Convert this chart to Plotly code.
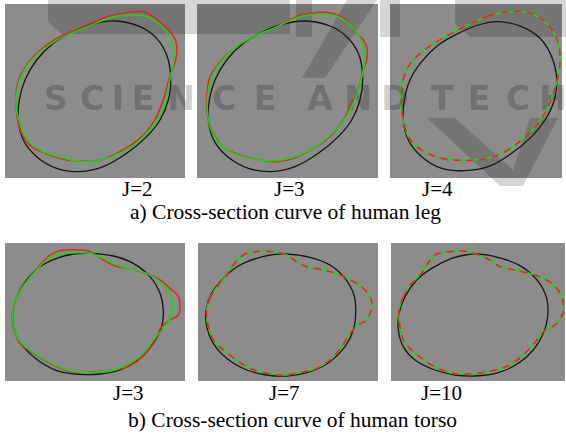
import plotly.graph_objects as go

W, H = 566, 436

# ---------------- data (units = 3x crop pixels of each panel) -------------
LEG_J2_BLACK = [(345,63),(420,80),(470,115),(500,165),(512,230),(505,300),(480,360),(440,410),(380,460),(310,500),
                (240,515),(170,505),(110,470),(70,420),(55,360),(58,300),(75,240),(110,180),(160,130),(220,95),(280,72)]
LEG_J2_RED = [(290,62),(340,45),(380,38),(430,35),(460,50),(490,75),(515,100),(528,125),(530,165),(520,200),(508,235),
              (500,265),(490,300),(470,350),(440,395),(400,430),(350,460),(300,480),(260,483),(200,480),(140,462),(95,440),
              (70,410),(55,370),(48,320),(50,265),(60,230),(80,195),(105,165),(140,135),(190,105),(240,85)]
LEG_J2_GREEN = [(300,65),(340,50),(400,45),(440,50),(475,70),(500,95),(518,130),(522,170),(515,215),(505,260),(490,320),
                (460,375),(420,420),(370,455),(300,480),(240,484),(180,472),(120,450),(80,415),(60,370),(48,320),(52,265),
                (70,215),(100,175),(140,140),(190,110),(250,85)]

LEG_J3_BLACK = [(345,63),(420,78),(470,110),(505,160),(518,230),(510,300),(485,360),(445,410),(385,460),(315,500),
                (245,515),(175,505),(115,472),(72,422),(55,360),(58,300),(75,240),(110,180),(160,130),(220,95),(280,72)]
LEG_J3_RED = [(300,60),(330,45),(380,38),(420,38),(455,50),(480,75),(500,100),(520,120),(530,140),(530,180),(520,210),
              (510,250),(500,280),(485,310),(460,360),(420,410),(370,445),(310,475),(260,485),(200,478),(150,465),
              (105,445),(75,410),(58,370),(50,320),(52,270),(60,230),(75,205),(100,175),(140,140),(190,110),(250,85)]
LEG_J3_GREEN = [(300,62),(330,50),(390,42),(440,48),(480,75),(505,105),(520,140),(525,180),(518,220),(505,270),(485,320),
                (455,370),(410,415),(360,450),(300,475),(240,483),(180,475),(120,455),(80,420),(60,380),(52,330),(55,270),
                (70,220),(100,178),(140,140),(190,110),(250,85)]

LEG_J4_BLACK = [(370,65),(440,80),(495,115),(530,170),(545,235),(538,300),(510,360),(470,410),(410,460),(340,500),
                (270,512),(200,505),(140,470),(100,420),(85,360),(88,300),(105,240),(140,185),(190,135),(250,100),(310,75)]
LEG_J4_RED = [(290,70),(340,48),(400,35),(460,38),(505,60),(535,95),(552,140),(555,190),(548,235),(535,280),(520,320),
              (490,370),(440,420),(380,460),(320,478),(260,481),(200,475),(140,450),(100,410),(86,360),(78,300),(82,250),
              (100,200),(130,165),(170,135),(230,100)]
LEG_J4_GREEN = [(290,70),(340,48),(400,35),(460,38),(505,60),(535,95),(552,140),(555,190),(548,235),(535,280),(520,320),
                (490,370),(440,420),(380,460),(320,478),(260,480),(200,475),(140,450),(100,410),(85,360),(75,300),(80,250),
                (100,200),(130,165),(170,135),(230,100)]

TORSO_J3_BLACK = [(270,40),(340,48),(400,70),(450,110),(480,160),(490,210),(485,260),(460,310),(420,355),(360,390),
                  (300,402),(240,403),(180,395),(120,365),(70,320),(42,270),(38,220),(50,170),(80,120),(120,80),(170,55),(220,42)]
TORSO_J3_RED = [(38,215),(50,170),(75,130),(100,100),(120,75),(150,45),(180,32),(260,32),(280,40),(310,60),(345,78),
                (380,85),(440,100),(480,120),(510,145),(535,170),(540,200),(535,225),(510,240),(485,260),(470,290),(445,330),
                (410,365),(375,383),(340,390),(290,395),(240,398),(200,392),(150,370),(100,340),(60,310),(45,280),(38,250)]
TORSO_J3_GREEN = [(38,215),(50,170),(80,125),(110,90),(140,60),(180,42),(230,38),(270,40),(310,55),(340,70),(380,85),
                  (440,100),(480,125),(510,160),(518,200),(510,235),(490,265),(460,300),(430,340),(400,365),(350,388),
                  (300,395),(250,398),(200,390),(150,368),(100,338),(65,310),(45,280),(38,250)]

TORSO_J7_BLACK = [(290,42),(360,52),(420,75),(465,115),(492,165),(497,220),(490,270),(465,320),(420,365),(360,395),
                  (290,408),(230,405),(170,390),(110,355),(70,310),(50,260),(48,210),(65,160),(100,115),(145,78),(200,55),(250,44)]
TORSO_J7_RED = [(50,210),(60,175),(85,135),(110,105),(130,75),(160,45),(195,35),(250,35),(290,45),(320,65),(350,80),
                (400,90),(450,105),(500,130),(530,155),(545,185),(542,215),(530,240),(505,255),(480,280),(455,320),(420,360),
                (380,385),(330,398),(280,405),(230,400),(180,385),(140,360),(100,330),(70,300),(55,260),(50,230)]
TORSO_J7_GREEN = [(50,210),(60,175),(85,135),(110,105),(130,75),(160,45),(195,35),(250,35),(290,45),(320,65),(350,80),
                  (400,90),(450,105),(500,130),(530,155),(545,185),(542,215),(530,240),(505,255),(480,280),(455,320),(420,360),
                  (380,385),(330,398),(280,405),(230,400),(180,385),(140,360),(100,330),(70,300),(55,260),(50,230)]

TORSO_J10_BLACK = [(310,42),(380,55),(440,80),(490,125),(515,175),(518,230),(505,280),(475,330),(430,370),(370,398),
                   (300,408),(240,405),(180,390),(120,360),(85,320),(70,270),(72,220),(90,170),(125,120),(170,85),(230,55),(270,45)]
TORSO_J10_RED = [(72,210),(85,170),(110,130),(140,100),(155,75),(180,45),(220,35),(280,35),(310,45),(345,60),(375,80),
                 (420,90),(480,105),(530,130),(555,160),(565,195),(560,230),(540,255),(510,270),(490,295),(460,330),(420,365),
                 (380,385),(320,398),(270,402),(230,400),(180,380),(140,355),(110,330),(85,300),(75,260),(72,235)]
TORSO_J10_GREEN = [(72,210),(85,170),(110,130),(140,100),(155,75),(180,45),(220,35),(280,35),(310,45),(345,60),(375,80),
                   (420,90),(480,105),(530,130),(555,160),(565,195),(560,230),(540,255),(510,270),(490,295),(460,330),(420,365),
                   (380,385),(320,398),(270,402),(230,400),(180,380),(140,355),(110,330),(85,300),(75,260),(72,235)]

PANEL_LABELS = ["J=2", "J=3", "J=4", "J=3", "J=7", "J=10"]
CAPTIONS = ["a) Cross-section curve of human leg", "b) Cross-section curve of human torso"]
WATERMARK_LETTERS = list("SCIENCEANDTECH")
WATERMARK_X = [56, 92, 118, 143, 181, 224, 265, 320, 358, 395, 442, 479, 518, 553]

# ---------------- layout (image pixels) ----------------
GRAY = "#8c8c8c"
RED = "#f02020"
GREEN = "#10dd10"
BLACK = "#151515"

panels = [
    dict(rect=(5, 4, 185, 178),    origin=(0, 0),     curves=(LEG_J2_BLACK, LEG_J2_RED, LEG_J2_GREEN), overlap=False, label=(137, 189)),
    dict(rect=(197, 4, 378, 178),  origin=(190, 0),   curves=(LEG_J3_BLACK, LEG_J3_RED, LEG_J3_GREEN), overlap=False, label=(289, 189)),
    dict(rect=(390, 4, 562, 178),  origin=(375, 0),   curves=(LEG_J4_BLACK, LEG_J4_RED, LEG_J4_GREEN), overlap=True, label=(438, 189)),
    dict(rect=(5, 243, 185, 381),  origin=(0, 240),   curves=(TORSO_J3_BLACK, TORSO_J3_RED, TORSO_J3_GREEN), overlap=False, label=(128, 393)),
    dict(rect=(198, 243, 378, 381), origin=(190, 240), curves=(TORSO_J7_BLACK, TORSO_J7_RED, TORSO_J7_GREEN), overlap=True, label=(284, 393)),
    dict(rect=(391, 243, 565, 381), origin=(375, 240), curves=(TORSO_J10_BLACK, TORSO_J10_RED, TORSO_J10_GREEN), overlap=True, label=(441, 393)),
]

def px(x):
    return x / W

def py(y):
    return 1 - y / H

fig = go.Figure()
shapes = []
annotations = []

# panel backgrounds
for p in panels:
    l, t, r, b = p["rect"]
    shapes.append(dict(type="rect", xref="paper", yref="paper", x0=px(l), x1=px(r), y0=py(b), y1=py(t),
                       line=dict(width=0), fillcolor=GRAY, layer="below"))

# watermark shapes (faint)
WM = "rgba(0,0,0,0.16)"
WM_TEXT = "rgba(0,0,0,0.2)"
def poly(pts):
    return "M " + " L ".join(f"{px(x)},{py(y)}" for x, y in pts) + " Z"
wm_paths = [
    [(48, 0), (290, 0), (290, 34), (62, 34), (48, 22)],
    [(296, 0), (312, 0), (312, 37), (296, 37)],
    [(347, 0), (377, 0), (325, 78), (302, 78)],
    [(380, 0), (400, 0), (400, 37), (380, 37)],
    [(455, 0), (566, 0), (566, 37), (470, 37), (455, 24)],
    [(427, 118), (455, 118), (513, 170), (530, 118), (558, 118), (523, 186), (500, 186)],
]
for pts in wm_paths:
    shapes.append(dict(type="path", xref="paper", yref="paper", path=poly(pts),
                       line=dict(width=0), fillcolor=WM, layer="below"))

# watermark letters on a full-page background subplot (drawn first, below the curves)
fig.add_trace(go.Scatter(x=WATERMARK_X, y=[102] * len(WATERMARK_X), mode="text", text=WATERMARK_LETTERS,
                         textfont=dict(family="DejaVu Sans", size=33, color=WM_TEXT, weight="bold"),
                         xaxis="x", yaxis="y", hoverinfo="skip", showlegend=False, cliponaxis=False))
layout_axes = dict(
    xaxis=dict(domain=[0, 1], range=[0, W], visible=False, fixedrange=True),
    yaxis=dict(domain=[0, 1], range=[H, 0], visible=False, fixedrange=True),
)

def closed(pts):
    xs = [q[0] for q in pts] + [pts[0][0]]
    ys = [q[1] for q in pts] + [pts[0][1]]
    return xs, ys

for i, p in enumerate(panels):
    k = i + 2
    l, t, r, b = p["rect"]
    ox, oy = p["origin"]
    xa, ya = f"x{k}", f"y{k}"
    layout_axes[f"xaxis{k}"] = dict(domain=[px(l), px(r)], range=[(l - ox) * 3, (r - ox) * 3],
                                    visible=False, fixedrange=True, anchor=ya)
    layout_axes[f"yaxis{k}"] = dict(domain=[py(b), py(t)], range=[(b - oy) * 3, (t - oy) * 3],
                                    visible=False, fixedrange=True, anchor=xa)
    black, red, green = p["curves"]
    bx, by = closed(black)
    fig.add_trace(go.Scatter(x=bx, y=by, mode="lines", line=dict(color=BLACK, width=1.3, shape="spline", smoothing=1),
                             xaxis=xa, yaxis=ya, hoverinfo="skip", showlegend=False))
    rx, ry = closed(red)
    gx, gy = closed(green)
    if p["overlap"]:
        fig.add_trace(go.Scatter(x=gx, y=gy, mode="lines", line=dict(color=GREEN, width=1.5, shape="spline", smoothing=1),
                                 xaxis=xa, yaxis=ya, hoverinfo="skip", showlegend=False))
        fig.add_trace(go.Scatter(x=rx, y=ry, mode="lines", line=dict(color=RED, width=1.5, shape="spline", smoothing=1,
                                                                      dash="7px,6px"),
                                 xaxis=xa, yaxis=ya, hoverinfo="skip", showlegend=False))
    else:
        fig.add_trace(go.Scatter(x=rx, y=ry, mode="lines", line=dict(color=RED, width=1.5, shape="spline", smoothing=1),
                                 xaxis=xa, yaxis=ya, hoverinfo="skip", showlegend=False))
        fig.add_trace(go.Scatter(x=gx, y=gy, mode="lines", line=dict(color=GREEN, width=1.5, shape="spline", smoothing=1),
                                 xaxis=xa, yaxis=ya, hoverinfo="skip", showlegend=False))
    lx, ly = p["label"]
    annotations.append(dict(text=PANEL_LABELS[i], x=px(lx), y=py(ly), xref="paper", yref="paper",
                            xanchor="center", yanchor="middle", showarrow=False,
                            font=dict(family="Liberation Serif", size=21, color="black")))

for text, (cx, cy) in zip(CAPTIONS, [(285, 212), (292, 420)]):
    annotations.append(dict(text=text, x=px(cx), y=py(cy), xref="paper", yref="paper",
                            xanchor="center", yanchor="middle", showarrow=False,
                            font=dict(family="Liberation Serif", size=21.5, color="black")))

fig.update_layout(width=W, height=H, margin=dict(l=0, r=0, t=0, b=0),
                  paper_bgcolor="white", plot_bgcolor="rgba(0,0,0,0)",
                  shapes=shapes, annotations=annotations, showlegend=False, **layout_axes)

fig.write_html("out.html", config={"displayModeBar": False},
               post_script="document.body.style.margin='0';document.body.style.padding='0';")
